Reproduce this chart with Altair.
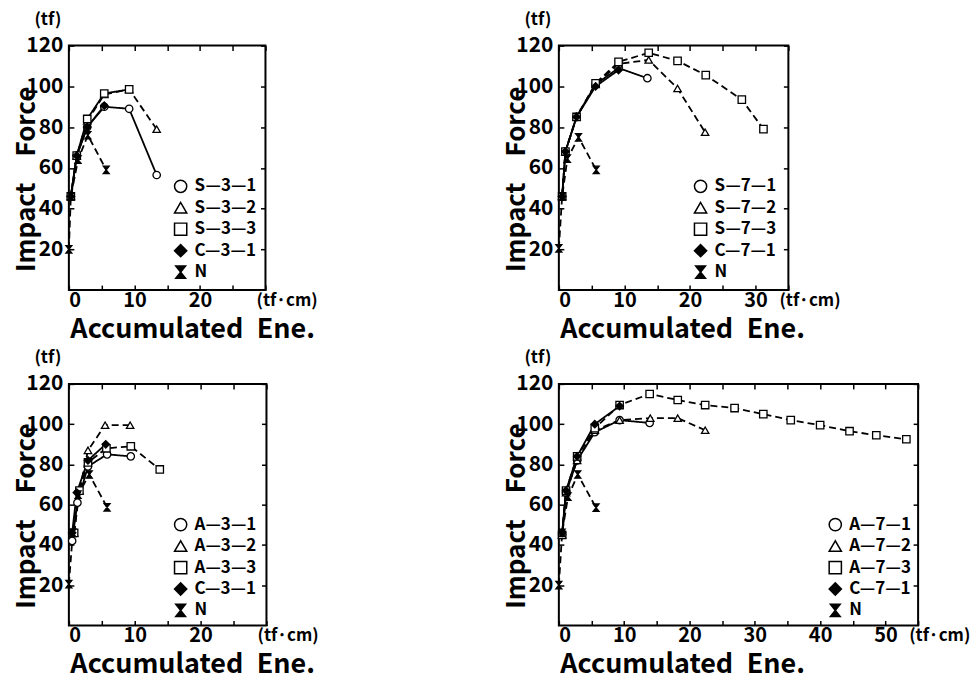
import altair as alt
import pandas as pd

FONT = "Noto Sans CJK JP, DejaVu Sans Condensed, sans-serif"
HOURGLASS = "M-0.8,-1L0.8,-1L-0.8,1L0.8,1Z"

# ---------------- Panel 1 (top-left) ----------------
p1_names = ["S—3—1", "S—3—2", "S—3—3", "C—3—1", "N"]
p1_dash = ["solid", "dashed", "solid", "solid", "dashed"]
p1_s31_x = [0.3, 1.2, 2.8, 5.4, 9.2, 13.4]
p1_s31_y = [46, 66, 80, 90, 89, 56.5]
p1_s32_x = [0.3, 1.2, 2.8, 5.4, 9.2, 13.4]
p1_s32_y = [46, 66, 83, 96, 98.5, 79]
p1_s33_x = [0.3, 1.2, 2.8, 5.4, 9.2]
p1_s33_y = [46, 66, 84, 96.5, 98.5]
p1_c31_x = [0.3, 1.2, 2.8, 5.4]
p1_c31_y = [46, 66, 80, 90.5]
p1_n_x = [0, 0.3, 1.4, 2.9, 5.7]
p1_n_y = [20, 46, 64, 76, 59]

# ---------------- Panel 2 (top-right) ----------------
p2_names = ["S—7—1", "S—7—2", "S—7—3", "C—7—1", "N"]
p2_dash = ["solid", "dashed", "dashed", "solid", "dashed"]
p2_s71_x = [0.5, 1.0, 2.7, 5.6, 9.1, 13.5]
p2_s71_y = [46, 68, 85, 101, 109, 104]
p2_s72_x = [0.5, 1.0, 2.7, 5.6, 9.1, 13.7, 18.1, 22.3]
p2_s72_y = [46, 68, 85, 101, 111, 113, 99, 77.5]
p2_s73_x = [0.5, 1.0, 2.7, 5.6, 9.1, 13.7, 18.1, 22.4, 27.9, 31.2]
p2_s73_y = [46, 68, 85, 101.5, 112, 116.5, 112.5, 105.5, 93.5, 79]
p2_c71_x = [0.5, 1.0, 2.7, 5.6, 9.1]
p2_c71_y = [46, 68, 85, 100, 108]
p2_n_x = [0, 0.5, 1.3, 3.0, 5.7]
p2_n_y = [20.5, 46, 64.5, 75, 59]

# ---------------- Panel 3 (bottom-left) ----------------
p3_names = ["A—3—1", "A—3—2", "A—3—3", "C—3—1", "N"]
p3_dash = ["solid", "dashed", "dashed", "solid", "dashed"]
p3_a31_x = [0.5, 1.3, 2.9, 5.8, 9.4]
p3_a31_y = [42, 61, 79, 85, 84]
p3_a32_x = [0.8, 1.6, 2.9, 5.5, 9.3]
p3_a32_y = [46, 67, 87, 99.5, 99.5]
p3_a33_x = [0.8, 1.6, 2.9, 5.7, 9.4, 13.8]
p3_a33_y = [46, 67, 81, 88, 89, 77.5]
p3_c31_x = [0.5, 1.2, 2.9, 5.6]
p3_c31_y = [46, 66, 82, 90]
p3_n_x = [0, 0.6, 1.4, 3.1, 5.8]
p3_n_y = [20.5, 46, 65, 75, 58.7]

# ---------------- Panel 4 (bottom-right) ----------------
p4_names = ["A—7—1", "A—7—2", "A—7—3", "C—7—1", "N"]
p4_dash = ["solid", "dashed", "dashed", "solid", "dashed"]
p4_a71_x = [0.5, 1.1, 2.8, 5.5, 9.3, 13.9]
p4_a71_y = [45, 66, 82, 96, 102, 100.6]
p4_a72_x = [0.5, 1.1, 2.8, 5.5, 9.3, 14.0, 18.2, 22.4]
p4_a72_y = [45, 66, 82, 97, 102, 103, 103, 97]
p4_a73_x = [0.5, 1.1, 2.8, 5.5, 9.3, 13.9, 18.2, 22.4, 26.9, 31.3, 35.5, 40.0, 44.5, 48.6, 53.2]
p4_a73_y = [45, 67, 84, 98, 109.5, 115, 112, 109.5, 108, 105, 102, 99.5, 96.5, 94.5, 92.5]
p4_c71_x = [0.5, 1.1, 2.8, 5.5, 9.3]
p4_c71_y = [46, 67, 84, 100, 109]
p4_n_x = [0, 0.5, 1.4, 2.9, 5.7]
p4_n_y = [20, 46, 64, 75, 58.5]

y_ticks = [20, 40, 60, 80, 100, 120]

SHAPES = ["circle", "triangle-up", "square", "diamond", HOURGLASS]
FILLS = ["white", "white", "white", "black", "black"]
DASH = {"solid": [1, 0], "dashed": [7, 4]}
ROW_STEP = 21.5


def panel(names, dashes, xs, ys, xmax, w, h, leg_x, leg_y):
    rows = []
    for name, xv, yv in zip(names, xs, ys):
        for i, (a, b) in enumerate(zip(xv, yv)):
            rows.append({"x": a, "y": b, "series": name, "i": i})
    df = pd.DataFrame(rows)
    xticks = list(range(0, xmax + 1, 5))
    xscale = alt.Scale(domain=[0, xmax], nice=False, zero=False)
    yscale = alt.Scale(domain=[0, 120], nice=False, zero=False)
    shape_scale = alt.Scale(domain=names, range=SHAPES)
    fill_scale = alt.Scale(domain=names, range=FILLS)
    label_expr = f"datum.value % 10 == 0 && datum.value <= {xmax - 5} ? datum.label : ''"

    lines = alt.Chart(df).mark_line(color="black", strokeWidth=1.8).encode(
        x=alt.X("x:Q", scale=xscale, axis=alt.Axis(
            values=xticks, labelExpr=label_expr, offset=-5, tickSize=5,
            domain=False, grid=False, labelPadding=0, labelFontSize=20,
            title="Accumulated\u2002Ene.", titleX=1, titleY=52,
            titleAlign="left", titleBaseline="alphabetic", titleFontSize=27,
            titleAngle=0)),
        y=alt.Y("y:Q", scale=yscale, axis=alt.Axis(
            values=y_ticks, offset=-5, tickSize=5, domain=False, grid=False,
            labelPadding=6, labelFontSize=21,
            title="Impact\u2003Force", titleAngle=270, titleX=-47,
            titleY=h / 2 + 11, titleAlign="center", titleBaseline="middle",
            titleFontSize=26)),
        detail="series:N",
        order="i:Q",
        strokeDash=alt.StrokeDash("series:N", scale=alt.Scale(
            domain=names, range=[DASH[d] for d in dashes]), legend=None),
    )

    points = alt.Chart(df).mark_point(
        filled=True, stroke="black", strokeWidth=1.3, size=55, opacity=1
    ).encode(
        x=alt.X("x:Q", scale=xscale, axis=None),
        y=alt.Y("y:Q", scale=yscale, axis=None),
        shape=alt.Shape("series:N", scale=shape_scale, legend=None),
        fill=alt.Fill("series:N", scale=fill_scale, legend=None),
    )

    frame_ticks = alt.Chart(df).mark_point(opacity=0).encode(
        x=alt.X("x:Q", scale=xscale, axis=alt.Axis(
            orient="top", values=xticks, labels=False, offset=-5, tickSize=5,
            domain=False, grid=False, title=None)),
        y=alt.Y("y:Q", scale=yscale, axis=alt.Axis(
            orient="right", values=y_ticks, labels=False, offset=-5, tickSize=5,
            domain=False, grid=False, title=None)),
    )

    # legend drawn inside the plot, one row per series
    leg_df = pd.DataFrame({"series": names, "k": list(range(len(names)))})
    leg_base = alt.Chart(leg_df).transform_calculate(
        py=f"{leg_y} + datum.k * {ROW_STEP}"
    )
    leg_sym = leg_base.mark_point(
        filled=True, stroke="black", strokeWidth=1.5, size=150, opacity=1
    ).encode(
        x=alt.value(leg_x),
        y=alt.Y("py:Q", scale=None, axis=None),
        shape=alt.Shape("series:N", scale=shape_scale, legend=None),
        fill=alt.Fill("series:N", scale=fill_scale, legend=None),
    )
    leg_txt = leg_base.mark_text(
        font=FONT, fontWeight="bold", fontSize=17, align="left",
        baseline="middle", color="black"
    ).encode(
        x=alt.value(leg_x + 14),
        y=alt.Y("py:Q", scale=None, axis=None),
        text="series:N",
    )

    tf = alt.Chart(pd.DataFrame({"t": ["(tf)"]})).mark_text(
        font=FONT, fontWeight="bold", fontSize=17, align="center",
        baseline="middle", color="black"
    ).encode(text="t:N", x=alt.value(-21), y=alt.value(-26))

    tfcm = alt.Chart(pd.DataFrame({"t": ["(tf·cm)"]})).mark_text(
        font=FONT, fontWeight="bold", fontSize=17, align="left",
        baseline="middle", color="black"
    ).encode(text="t:N", x=alt.value(w - 9), y=alt.value(h + 11))

    return alt.layer(lines, points, frame_ticks, leg_sym, leg_txt, tf, tfcm).resolve_axis(
        x="independent", y="independent"
    ).properties(width=w, height=h)


c1 = panel(p1_names, p1_dash,
           [p1_s31_x, p1_s32_x, p1_s33_x, p1_c31_x, p1_n_x],
           [p1_s31_y, p1_s32_y, p1_s33_y, p1_c31_y, p1_n_y],
           30, 197, 245, 112, 141)
c2 = panel(p2_names, p2_dash,
           [p2_s71_x, p2_s72_x, p2_s73_x, p2_c71_x, p2_n_x],
           [p2_s71_y, p2_s72_y, p2_s73_y, p2_c71_y, p2_n_y],
           35, 230, 245, 142, 141)
c3 = panel(p3_names, p3_dash,
           [p3_a31_x, p3_a32_x, p3_a33_x, p3_c31_x, p3_n_x],
           [p3_a31_y, p3_a32_y, p3_a33_y, p3_c31_y, p3_n_y],
           30, 198, 242, 112, 141)
c4 = panel(p4_names, p4_dash,
           [p4_a71_x, p4_a72_x, p4_a73_x, p4_c71_x, p4_n_x],
           [p4_a71_y, p4_a72_y, p4_a73_y, p4_c71_y, p4_n_y],
           55, 360, 242, 277, 141)

RES = dict(shape="independent", fill="independent", strokeDash="independent")

chart = alt.concat(
    c1, c2, c3, c4, columns=2,
    spacing=alt.RowColnumber(row=94, column=293), bounds="flush"
).resolve_scale(**RES).properties(
    padding={"left": 4, "top": 1, "right": 0, "bottom": 0}
).configure_view(
    stroke="black", strokeWidth=2
).configure_axis(
    labelFont=FONT, titleFont=FONT, labelFontWeight="bold", titleFontWeight="bold",
    labelColor="black", titleColor="black", tickColor="black", tickWidth=1.5
)

chart.save("out.html", embed_options={"renderer": "svg", "actions": False})
